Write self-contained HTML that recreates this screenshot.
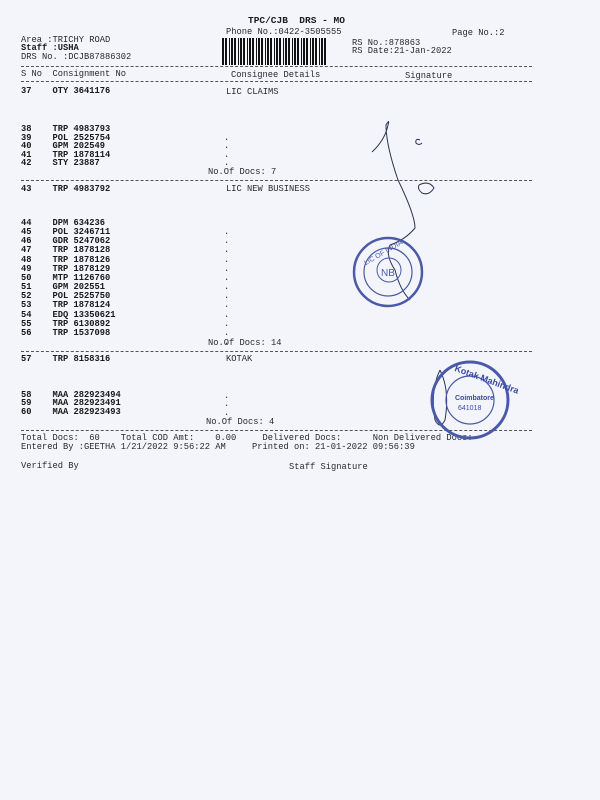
<!DOCTYPE html>
<html><head><meta charset="utf-8"><style>
body{margin:0;width:600px;height:800px;background:#f3f5fb;position:relative;overflow:hidden;font-family:"Liberation Mono",monospace;font-size:8.75px;color:#2a2a2a;}
.t{position:absolute;white-space:pre;line-height:10px;}
.b{font-weight:bold;color:#1a1a1a;}
.d{position:absolute;left:21px;width:511px;border-top:1px dashed #555;height:0;}
</style></head><body>
<div class="t b" style="left:248px;top:16px;font-size:9.5px">TPC/CJB  DRS - MO</div>
<div class="t" style="left:226px;top:27px">Phone No.:0422-3505555</div>
<div class="t" style="left:452px;top:28px">Page No.:2</div>
<div class="t" style="left:21px;top:35px">Area :TRICHY ROAD</div>
<div class="t b" style="left:21px;top:43px">Staff :USHA</div>
<div class="t" style="left:21px;top:52px">DRS No. :DCJB87886302</div>
<div class="t" style="left:352px;top:38px">RS No.:878863</div>
<div class="t" style="left:352px;top:46px">RS Date:21-Jan-2022</div>
<div style="position:absolute;left:222px;top:38px;width:104px;height:27px;background:repeating-linear-gradient(90deg,#111 0 2px,#f3f5fb 2px 3px,#111 3px 4px,#111 4px 5px,#f3f5fb 5px 7px,#111 7px 8px,#f3f5fb 8px 9px)"></div>
<div class="d" style="top:66px"></div>
<div class="t" style="left:21px;top:69px">S No  Consignment No</div>
<div class="t" style="left:231px;top:70px">Consignee Details</div>
<div class="t" style="left:405px;top:71px">Signature</div>
<div class="d" style="top:81px"></div>
<div class="t b" style="left:21px;top:86px">37    OTY 3641176</div>
<div class="t" style="left:226px;top:87px">LIC CLAIMS</div>
<div class="t b" style="left:21px;top:125px;line-height:8.5px">38    TRP 4983793
39    POL 2525754
40    GPM 202549
41    TRP 1878114
42    STY 23887</div>
<div class="t" style="left:224px;top:125px;line-height:8.5px">
.
.
.
.</div>
<div class="t" style="left:208px;top:167px">No.Of Docs: 7</div>
<div class="d" style="top:180px"></div>
<div class="t b" style="left:21px;top:184px">43    TRP 4983792</div>
<div class="t" style="left:226px;top:184px">LIC NEW BUSINESS</div>
<div class="t b" style="left:21px;top:219px;line-height:9.15px">44    DPM 634236
45    POL 3246711
46    GDR 5247062
47    TRP 1878128
48    TRP 1878126
49    TRP 1878129
50    MTP 1126760
51    GPM 202551
52    POL 2525750
53    TRP 1878124
54    EDQ 13350621
55    TRP 6130892
56    TRP 1537098</div>
<div class="t" style="left:224px;top:219px;line-height:9.15px">
.
.
.
.
.
.
.
.
.
.
.
.
.</div>
<div class="t" style="left:208px;top:338px">No.Of Docs: 14</div>
<div class="d" style="top:351px"></div>
<div class="t b" style="left:21px;top:354px">57    TRP 8158316</div>
<div class="t" style="left:226px;top:354px">KOTAK</div>
<div class="t b" style="left:21px;top:391px;line-height:8.3px">58    MAA 282923494
59    MAA 282923491
60    MAA 282923493</div>
<div class="t" style="left:224px;top:392px;line-height:8.3px">.
.
.</div>
<div class="t" style="left:206px;top:417px">No.Of Docs: 4</div>
<div class="d" style="top:430px"></div>
<div class="t" style="left:21px;top:433px">Total Docs:  60    Total COD Amt:    0.00     Delivered Docs:      Non Delivered Docs:</div>
<div class="t" style="left:21px;top:442px">Entered By :GEETHA 1/21/2022 9:56:22 AM     Printed on: 21-01-2022 09:56:39</div>
<div class="t" style="left:21px;top:461px">Verified By</div>
<div class="t" style="left:289px;top:462px">Staff Signature</div>
<svg style="position:absolute;left:0;top:0" width="600" height="800">
<g fill="none" stroke="#2a3550" stroke-width="1">
<path d="M372,152 Q385,140 388,125 Q390,118 386,125 Q386,145 398,180 Q415,215 415,228 Q405,240 390,245 Q385,255 395,270 Q400,290 410,300"/>
<path d="M420,140 q-5,-2 -4,3 q3,3 6,0"/>
<path d="M419,185 q10,-5 15,3 q-5,8 -12,5 q-5,-4 -3,-8"/>
<path d="M440,370 q-10,20 -5,50 q5,10 10,0 q5,-30 -5,-50"/>
</g>
<g fill="none" stroke="#4a5aa8">
<circle cx="388" cy="272" r="34" stroke-width="2.5"/>
<circle cx="388" cy="272" r="24" stroke-width="1.2"/>
<circle cx="389" cy="270" r="12" stroke-width="1"/>
<circle cx="470" cy="400" r="38" stroke-width="3"/>
<circle cx="470" cy="400" r="24" stroke-width="1.2"/>
</g>
<text x="381" y="276" font-family="Liberation Sans" font-size="10" fill="#4a5aa8">NB</text>
<text x="372" y="255" font-family="Liberation Sans" font-size="7" fill="#4a5aa8" transform="rotate(-30 388 272)">LIC OF INDIA</text>
<text x="445" y="378" font-family="Liberation Sans" font-size="9" font-weight="bold" fill="#3a4aa0" transform="rotate(20 470 400)">Kotak Mahindra</text>
<text x="455" y="400" font-family="Liberation Sans" font-size="7" font-weight="bold" fill="#3a4aa0">Coimbatore</text>
<text x="458" y="410" font-family="Liberation Sans" font-size="7" fill="#3a4aa0">641018</text>
</svg>
</body></html>
